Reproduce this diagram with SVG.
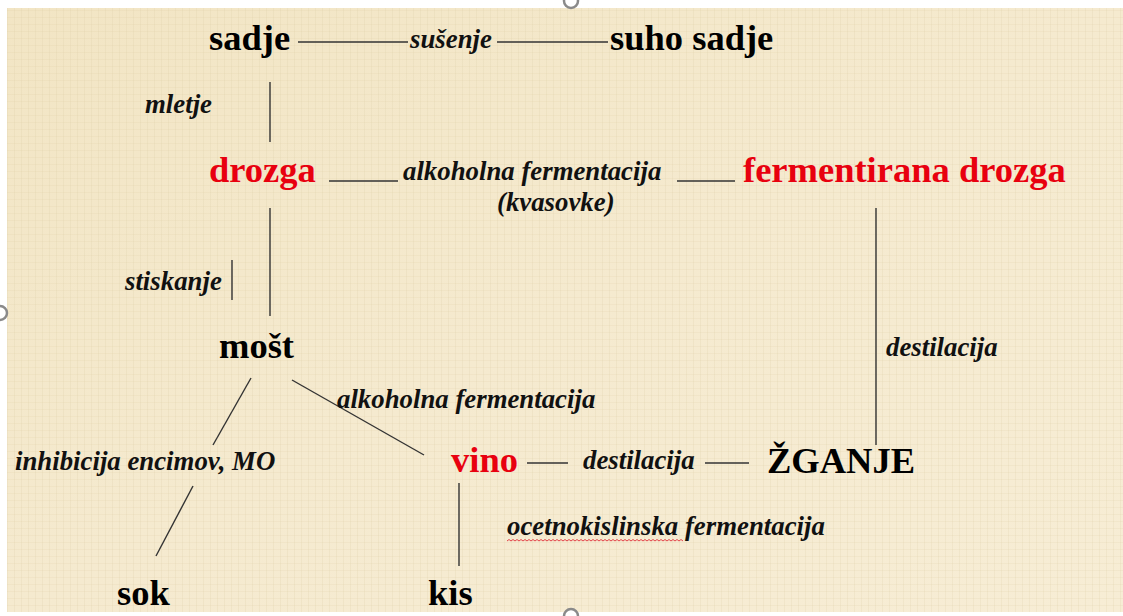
<svg xmlns="http://www.w3.org/2000/svg" width="1123" height="616" viewBox="0 0 1123 616">
  <defs>
    <style>
      .node { font-family: "Liberation Serif", "Times New Roman", serif; font-weight: bold; font-size: 36.5px; fill: #000; }
      .red { fill: #E8000F; }
      .lbl { font-family: "Liberation Serif", "Times New Roman", serif; font-weight: bold; font-style: italic; font-size: 26.8px; fill: #111; }
      .edge { stroke: #333; stroke-width: 1.4; fill: none; }
      .handle { fill: #fff; stroke: #8a8a8a; stroke-width: 2.5; }
    </style>
    <pattern id="weave" width="7" height="7" patternUnits="userSpaceOnUse">
      <rect width="7" height="7" fill="none"/>
      <line x1="0.5" y1="0" x2="0.5" y2="7" stroke="#d9c89f" stroke-opacity="0.2" stroke-width="1"/>
      <line x1="0" y1="3.5" x2="7" y2="3.5" stroke="#d9c89f" stroke-opacity="0.16" stroke-width="1"/>
    </pattern>
    <linearGradient id="parch" x1="0" y1="0" x2="1" y2="1">
      <stop offset="0" stop-color="#F2E5C4"/>
      <stop offset="0.5" stop-color="#F5EACF"/>
      <stop offset="1" stop-color="#F7EDD5"/>
    </linearGradient>
  </defs>

  <rect x="0" y="0" width="1123" height="616" fill="#ffffff"/>
  <rect x="7" y="8" width="1116" height="604" fill="url(#parch)"/>
  <rect x="7" y="8" width="1116" height="604" fill="url(#weave)"/>

  <!-- selection handles -->
  <circle class="handle" cx="571" cy="1" r="7"/>
  <circle class="handle" cx="0" cy="313" r="7"/>
  <circle class="handle" cx="571" cy="616" r="7"/>

  <g id="connectors">
    <line class="edge" x1="298" y1="42" x2="408" y2="42"/>
    <line class="edge" x1="497" y1="42" x2="608" y2="42"/>
    <line class="edge" x1="270" y1="82" x2="270" y2="142"/>
    <line class="edge" x1="329" y1="181" x2="398" y2="181"/>
    <line class="edge" x1="677" y1="181" x2="735" y2="181"/>
    <line class="edge" x1="270" y1="208" x2="270" y2="316"/>
    <line class="edge" x1="232" y1="260" x2="232" y2="300"/>
    <line class="edge" x1="876" y1="208" x2="876" y2="445"/>
    <line class="edge" x1="292" y1="380" x2="424" y2="455"/>
    <line class="edge" x1="251" y1="378" x2="213" y2="445"/>
    <line class="edge" x1="193" y1="486" x2="156" y2="556"/>
    <line class="edge" x1="527" y1="463" x2="568" y2="463"/>
    <line class="edge" x1="705" y1="463" x2="749" y2="463"/>
    <line class="edge" x1="459" y1="483" x2="459" y2="566"/>
  </g>

  <g id="labels">
    <text class="lbl" x="410" y="48">sušenje</text>
    <text class="lbl" x="145" y="113">mletje</text>
    <text class="lbl" x="403" y="180">alkoholna fermentacija</text>
    <text class="lbl" x="497" y="211">(kvasovke)</text>
    <text class="lbl" x="125" y="290">stiskanje</text>
    <text class="lbl" x="886" y="356">destilacija</text>
    <text class="lbl" x="337" y="408">alkoholna fermentacija</text>
    <text class="lbl" x="15" y="470">inhibicija encimov, MO</text>
    <text class="lbl" x="583" y="469">destilacija</text>
    <text class="lbl" x="507" y="535">ocetnokislinska fermentacija</text>
    <path d="M507 541 l2 -1.5 l2 1.5 l2 -1.5 l2 1.5 l2 -1.5 l2 1.5 l2 -1.5 l2 1.5 l2 -1.5 l2 1.5 l2 -1.5 l2 1.5 l2 -1.5 l2 1.5 l2 -1.5 l2 1.5 l2 -1.5 l2 1.5 l2 -1.5 l2 1.5 l2 -1.5 l2 1.5 l2 -1.5 l2 1.5 l2 -1.5 l2 1.5 l2 -1.5 l2 1.5 l2 -1.5 l2 1.5 l2 -1.5 l2 1.5 l2 -1.5 l2 1.5 l2 -1.5 l2 1.5 l2 -1.5 l2 1.5 l2 -1.5 l2 1.5 l2 -1.5 l2 1.5 l2 -1.5 l2 1.5 l2 -1.5 l2 1.5 l2 -1.5 l2 1.5 l2 -1.5 l2 1.5 l2 -1.5 l2 1.5 l2 -1.5 l2 1.5 l2 -1.5 l2 1.5 l2 -1.5 l2 1.5 l2 -1.5 l2 1.5 l2 -1.5 l2 1.5 l2 -1.5 l2 1.5 l2 -1.5 l2 1.5 l2 -1.5 l2 1.5 l2 -1.5 l2 1.5 l2 -1.5 l2 1.5 l2 -1.5 l2 1.5 l2 -1.5 l2 1.5 l2 -1.5 l2 1.5 l2 -1.5 l2 1.5 l2 -1.5 l2 1.5 l2 -1.5 l2 1.5 l2 -1.5 l2 1.5 l2 -1.5 l2 1.5" fill="none" stroke="#E0303A" stroke-width="0.9"/>
  </g>

  <g id="node-sadje"><text class="node" x="209" y="50">sadje</text></g>
  <g id="node-suho-sadje"><text class="node" x="610" y="50">suho sadje</text></g>
  <g id="node-drozga"><text class="node red" x="209" y="182">drozga</text></g>
  <g id="node-fermentirana-drozga"><text class="node red" x="743" y="182">fermentirana drozga</text></g>
  <g id="node-most"><text class="node" x="219" y="358">mošt</text></g>
  <g id="node-vino"><text class="node red" x="451" y="472">vino</text></g>
  <g id="node-zganje"><text class="node" x="767" y="473">ŽGANJE</text></g>
  <g id="node-sok"><text class="node" x="117" y="605">sok</text></g>
  <g id="node-kis"><text class="node" x="428" y="605">kis</text></g>
</svg>
